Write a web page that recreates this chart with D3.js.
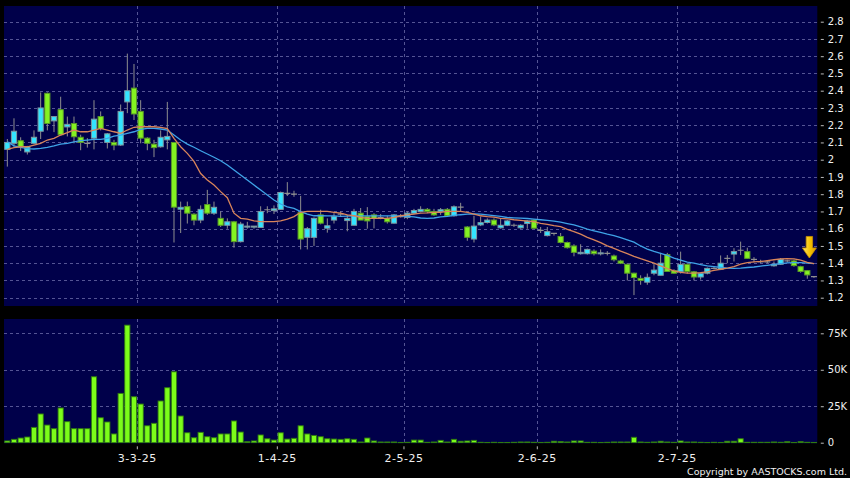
<!DOCTYPE html>
<html><head><meta charset="utf-8">
<script src="https://cdn.jsdelivr.net/npm/d3@7"></script>
<style>html,body{margin:0;padding:0;background:#000;}svg{display:block;font-family:"DejaVu Sans",sans-serif;}</style>
</head><body><svg id="c" width="850" height="478"></svg>
<script>
// ---- data ----
const tradingDays = [
  ["02", [3,4,5,6,7,10,11,12,13,14,17,18,19,20,21,24,25,26,27,28]],
  ["03", [3,4,5,6,7,10,11,12,13,14,17,18,19,20,21,24,25,26,27,28,31]],
  ["04", [1,2,3,7,8,9,10,11,14,15,16,17,22,23,24,25,28,29,30]],
  ["05", [2,6,7,8,9,12,13,14,15,16,19,20,21,22,23,26,27,28,29,30]],
  ["06", [2,3,4,5,6,9,10,11,12,13,16,17,18,19,20,23,24,25,26,27,30]],
  ["07", [2,3,4,7,8,9,10,11,14,15,16,17,18,21,22,23,24,25,28,29,30]]
];
const dates = tradingDays.flatMap(([m, ds]) => ds.map(d => "2025-" + m + "-" + String(d).padStart(2, "0")));

const open = [2.06,2.095,2.11,2.045,2.095,2.165,2.385,2.225,2.29,2.19,2.21,2.13,2.095,2.125,2.25,2.10,2.10,2.085,2.335,2.415,
 2.28,2.125,2.09,2.075,2.115,2.10,1.713,1.728,1.684,1.65,1.74,1.69,1.66,1.62,1.64,1.525,1.61,1.61,1.607,1.71,1.705,
 1.712,1.805,1.80,1.693,1.55,1.55,1.68,1.603,1.65,1.685,1.647,1.62,1.69,1.67,1.68,1.665,1.66,1.632,1.67,
 1.665,1.69,1.70,1.712,1.70,1.70,1.712,1.675,1.725,1.61,1.54,1.622,1.636,1.65,1.605,1.62,1.62,1.605,1.63,1.65,
 1.59,1.56,1.573,1.555,1.52,1.50,1.455,1.455,1.47,1.455,1.457,1.442,1.413,1.393,1.342,1.312,1.29,1.342,1.33,1.45,1.357,
 1.352,1.393,1.35,1.32,1.342,1.37,1.365,1.428,1.453,1.475,1.467,1.422,1.408,1.408,1.385,1.394,1.414,1.413,1.38,1.357,1.322];
const high = [2.12,2.24,2.13,2.08,2.17,2.39,2.39,2.25,2.365,2.25,2.25,2.145,2.125,2.345,2.28,2.155,2.115,2.32,2.615,2.555,
 2.345,2.13,2.115,2.17,2.335,2.10,1.757,1.757,1.69,1.735,1.825,1.757,1.70,1.66,1.645,1.64,1.64,1.615,1.73,1.73,1.735,
 1.815,1.87,1.82,1.79,1.61,1.665,1.71,1.66,1.69,1.70,1.68,1.715,1.72,1.725,1.69,1.685,1.675,1.685,1.685,
 1.70,1.715,1.73,1.72,1.715,1.72,1.72,1.735,1.75,1.615,1.675,1.67,1.66,1.66,1.66,1.65,1.63,1.625,1.65,1.655,
 1.61,1.61,1.575,1.575,1.525,1.51,1.51,1.485,1.48,1.48,1.47,1.45,1.42,1.40,1.345,1.33,1.34,1.395,1.46,1.46,1.365,
 1.467,1.40,1.355,1.345,1.375,1.38,1.445,1.447,1.487,1.525,1.49,1.435,1.42,1.415,1.41,1.43,1.42,1.42,1.385,1.36,1.325];
const low = [1.96,2.075,2.05,2.03,2.09,2.12,2.17,2.16,2.14,2.135,2.095,2.055,2.07,2.06,2.17,2.065,2.055,2.08,2.27,2.23,
 2.095,2.055,2.015,2.07,2.06,1.52,1.575,1.63,1.62,1.632,1.68,1.68,1.61,1.60,1.49,1.52,1.60,1.60,1.605,1.69,1.685,
 1.71,1.79,1.785,1.48,1.48,1.50,1.625,1.577,1.63,1.67,1.585,1.62,1.65,1.60,1.602,1.655,1.63,1.63,1.665,
 1.655,1.685,1.695,1.69,1.675,1.68,1.67,1.67,1.70,1.53,1.52,1.615,1.63,1.615,1.60,1.615,1.61,1.60,1.60,1.60,
 1.575,1.555,1.56,1.515,1.485,1.44,1.45,1.45,1.445,1.445,1.445,1.41,1.395,1.30,1.215,1.275,1.275,1.33,1.33,1.35,1.34,
 1.34,1.34,1.30,1.305,1.335,1.365,1.36,1.40,1.41,1.447,1.425,1.405,1.40,1.40,1.38,1.39,1.405,1.38,1.345,1.31,1.315];
const close = [2.10,2.165,2.075,2.075,2.13,2.30,2.21,2.25,2.145,2.205,2.133,2.10,2.095,2.235,2.18,2.15,2.085,2.28,2.40,2.265,
 2.125,2.095,2.07,2.13,2.135,1.725,1.724,1.69,1.65,1.712,1.69,1.724,1.62,1.64,1.525,1.627,1.615,1.615,1.70,1.71,1.715,
 1.81,1.805,1.80,1.54,1.60,1.66,1.632,1.617,1.67,1.685,1.66,1.70,1.65,1.645,1.66,1.665,1.64,1.68,1.67,
 1.69,1.705,1.712,1.70,1.68,1.71,1.675,1.727,1.725,1.55,1.615,1.635,1.65,1.622,1.62,1.645,1.62,1.62,1.645,1.603,
 1.59,1.583,1.573,1.52,1.49,1.463,1.463,1.48,1.455,1.46,1.457,1.42,1.40,1.342,1.317,1.30,1.318,1.36,1.40,1.352,1.342,
 1.393,1.352,1.32,1.341,1.37,1.37,1.40,1.428,1.467,1.475,1.428,1.422,1.408,1.408,1.394,1.422,1.414,1.386,1.352,1.332,1.322];
const volumeK = [1.2,2.3,3.2,3.9,10.5,19.7,12.1,9.6,23.8,14.4,9.6,9.6,9.6,45.2,17.1,14.2,6.0,33.8,80.6,31.5,
 26.5,11.6,13.3,28.6,37.7,48.6,18.3,6.8,3.4,7.1,4.1,3.4,6.0,6.0,14.9,7.3,0.7,1.2,5.3,2.7,1.8,
 6.8,2.5,3.0,11.6,6.0,5.0,4.1,2.7,2.5,2.3,2.7,2.3,0.5,3.2,1.2,0.5,0.5,0.5,0.2,
 0.3,1.8,1.8,0.3,0.5,1.6,0.5,2.3,1.0,1.2,1.6,0.3,0.2,0.3,0.2,0.2,0.3,0.5,0.5,0.3,
 0.2,0.3,1.0,0.8,0.5,1.2,1.2,0.3,0.3,0.2,0.3,0.5,0.5,0.5,3.7,0.5,0.3,0.5,1.0,0.5,0.3,
 1.2,0.5,0.5,0.3,0.2,0.3,0.2,1.0,1.0,2.7,0.3,0.3,0.3,0.3,0.5,0.3,0.7,0.2,0.7,0.3,0.2];
const ma10 = [2.06,2.07,2.075,2.075,2.085,2.095,2.114,2.124,2.143,2.157,2.172,2.162,2.162,2.172,2.182,2.172,2.162,2.153,2.172,2.188,
 2.191,2.191,2.191,2.188,2.18,2.124,2.075,2.037,1.99,1.92,1.882,1.853,1.815,1.78,1.69,1.66,1.655,1.645,1.641,1.641,1.641,
 1.645,1.655,1.67,1.695,1.70,1.70,1.70,1.70,1.695,1.69,1.68,1.675,1.666,1.66,1.66,1.66,1.66,1.665,1.675,
 1.68,1.685,1.69,1.692,1.695,1.695,1.70,1.70,1.70,1.695,1.685,1.675,1.67,1.667,1.66,1.657,1.652,1.648,1.644,1.641,
 1.631,1.625,1.618,1.612,1.596,1.583,1.568,1.55,1.535,1.519,1.501,1.486,1.47,1.455,1.44,1.426,1.413,1.40,1.384,1.368,1.355,
 1.347,1.343,1.343,1.345,1.35,1.358,1.365,1.372,1.38,1.395,1.403,1.408,1.41,1.415,1.42,1.425,1.427,1.425,1.418,1.405,1.398];
const ma20 = [2.104,2.08,2.072,2.064,2.062,2.066,2.072,2.08,2.09,2.095,2.103,2.11,2.114,2.118,2.118,2.124,2.137,2.143,2.153,2.162,
 2.176,2.182,2.182,2.178,2.172,2.143,2.114,2.09,2.072,2.052,2.033,2.014,1.994,1.969,1.94,1.911,1.882,1.853,1.824,1.795,1.766,
 1.743,1.727,1.718,1.699,1.684,1.675,1.675,1.674,1.674,1.672,1.673,1.674,1.674,1.674,1.674,1.674,1.674,1.674,1.674,
 1.672,1.668,1.662,1.66,1.662,1.668,1.672,1.677,1.681,1.684,1.686,1.684,1.68,1.676,1.672,1.665,1.663,1.661,1.659,1.656,
 1.652,1.648,1.644,1.638,1.63,1.622,1.61,1.598,1.588,1.578,1.568,1.56,1.548,1.535,1.522,1.50,1.482,1.468,1.457,1.445,1.43,
 1.418,1.406,1.40,1.392,1.384,1.38,1.376,1.372,1.37,1.372,1.375,1.378,1.383,1.388,1.393,1.398,1.402,1.403,1.403,1.40,1.398];

const priceTicks = [1.2,1.3,1.4,1.5,1.6,1.7,1.8,1.9,2.0,2.1,2.2,2.3,2.4,2.5,2.6,2.7,2.8];
const volTicks = [0,25,50,75];
const volTickLabels = ["0","25K","50K","75K"];
const monthTickDates = ["2025-03-03","2025-04-01","2025-05-02","2025-06-02","2025-07-02"];
const monthTickLabels = ["3-3-25","1-4-25","2-5-25","2-6-25","2-7-25"];

// ---- layout / styles ----
const svg = d3.select("#c");
const P = {l: 4, r: 817.3, top: 6, bot: 306};
const V = {top: 319, bot: 443.3};
const bg = "#00004a", gridC = "#545494";
const upC = "#33e4ff", dnC = "#84f222", wickC = "#8f8f8f";

const x = d3.scaleBand().domain(dates).range([P.l, P.r]).padding(0);
const bw = x.bandwidth();
const cx = d => x(d) + bw / 2;
const y = d3.scaleLinear().domain([1.2, 2.8]).range([297.7, 21.7]);
const yv = d3.scaleLinear().domain([0, 75]).range([442.7, 333.3]);

svg.append("rect").attr("width", 850).attr("height", 478).attr("fill", "#000");
svg.append("rect").attr("x", P.l).attr("y", P.top).attr("width", P.r - P.l).attr("height", P.bot - P.top).attr("fill", bg);
svg.append("rect").attr("x", P.l).attr("y", V.top).attr("width", P.r - P.l).attr("height", V.bot - V.top).attr("fill", bg);

const defs = svg.append("defs");
defs.append("clipPath").attr("id", "cp").append("rect").attr("x", P.l).attr("y", P.top).attr("width", P.r - P.l).attr("height", P.bot - P.top);
defs.append("clipPath").attr("id", "cv").append("rect").attr("x", P.l).attr("y", V.top).attr("width", P.r - P.l).attr("height", V.bot - V.top);

// grids
const grid = svg.append("g").attr("stroke", gridC).attr("stroke-width", 1).attr("stroke-dasharray", "3,3").attr("fill", "none");
grid.selectAll(".hp").data(priceTicks).join("line")
  .attr("x1", P.l).attr("x2", P.r).attr("y1", d => Math.round(y(d)) + 0.5).attr("y2", d => Math.round(y(d)) + 0.5);
grid.selectAll(".hv").data(volTicks.slice(1)).join("line")
  .attr("x1", P.l).attr("x2", P.r).attr("y1", d => Math.round(yv(d)) + 0.5).attr("y2", d => Math.round(yv(d)) + 0.5);
monthTickDates.forEach(d => {
  const xx = Math.round(x(d)) + 0.5;
  grid.append("line").attr("x1", xx).attr("x2", xx).attr("y1", P.top).attr("y2", P.bot);
  grid.append("line").attr("x1", xx).attr("x2", xx).attr("y1", V.top).attr("y2", V.bot);
});

// volume bars
const vol = dates.map((d, i) => ({d, v: volumeK[i]}));
svg.append("g").attr("clip-path", "url(#cv)").selectAll("rect").data(vol).join("rect")
  .attr("x", d => cx(d.d) - 2.6).attr("width", 5.2)
  .attr("y", d => yv(d.v)).attr("height", d => Math.max(0.5, yv(0) - yv(d.v)))
  .attr("fill", "#7cfc1a").attr("stroke", "#2f7a10").attr("stroke-width", 0.9);

// candles
const candles = dates.map((d, i) => ({d, o: open[i], h: high[i], l: low[i], c: close[i]}));
const cg = svg.append("g").attr("clip-path", "url(#cp)");
cg.selectAll(".wick").data(candles).join("line")
  .attr("x1", d => cx(d.d)).attr("x2", d => cx(d.d))
  .attr("y1", d => y(d.h)).attr("y2", d => y(d.l))
  .attr("stroke", wickC).attr("stroke-width", 1);
cg.selectAll(".body").data(candles.filter(d => d.o !== d.c)).join("rect")
  .attr("x", d => cx(d.d) - 2.6).attr("width", 5.2)
  .attr("y", d => y(Math.max(d.o, d.c)))
  .attr("height", d => Math.max(1, Math.abs(y(d.o) - y(d.c))))
  .attr("fill", d => d.c > d.o ? upC : dnC)
  .attr("stroke", d => d.c > d.o ? "#7d98a0" : "#5a9a28").attr("stroke-width", 1);
cg.selectAll(".doji").data(candles.filter(d => d.o === d.c)).join("line")
  .attr("x1", d => cx(d.d) - 3).attr("x2", d => cx(d.d) + 3)
  .attr("y1", d => y(d.c)).attr("y2", d => y(d.c))
  .attr("stroke", wickC).attr("stroke-width", 1.2);

// moving averages
const line = arr => d3.line().x((d, i) => cx(dates[i])).y(d => y(d))(arr);
cg.append("path").attr("d", line(ma20)).attr("fill", "none").attr("stroke", "#3ea2e6").attr("stroke-width", 1.3);
cg.append("path").attr("d", line(ma10)).attr("fill", "none").attr("stroke", "#d8845a").attr("stroke-width", 1.3);

// arrow marker at last bar
const grad = defs.append("linearGradient").attr("id", "ag").attr("x1", 0).attr("x2", 1).attr("y1", 0).attr("y2", 0);
grad.append("stop").attr("offset", "0%").attr("stop-color", "#ffe46a");
grad.append("stop").attr("offset", "55%").attr("stop-color", "#f5c200");
grad.append("stop").attr("offset", "100%").attr("stop-color", "#d99a00");
const ax = cx(dates[dates.length - 1]) - 4.6, aTop = y(1.555), aTip = y(1.43), aNeck = aTop + 11.5;
svg.append("path")
  .attr("d", `M${ax-3.2},${aTop} L${ax+3.2},${aTop} L${ax+3.2},${aNeck} L${ax+7},${aNeck} L${ax},${aTip} L${ax-7},${aNeck} L${ax-3.2},${aNeck} Z`)
  .attr("fill", "url(#ag)").attr("stroke", "#c89000").attr("stroke-width", 0.8);

// axes
const txtC = "#f0f0f0";
const ya = svg.append("g").attr("transform", `translate(${P.r + 3.5},0)`)
  .call(d3.axisRight(y).tickValues(priceTicks).tickSize(3).tickPadding(4).tickFormat(d => String(+d.toFixed(1))));
const va = svg.append("g").attr("transform", `translate(${P.r + 3.5},0)`)
  .call(d3.axisRight(yv).tickValues(volTicks).tickSize(3).tickPadding(4).tickFormat((d, i) => volTickLabels[i]));
const xa = svg.append("g").attr("transform", `translate(${-bw / 2},${V.bot + 3})`)
  .call(d3.axisBottom(x).tickValues(monthTickDates).tickSize(3).tickPadding(5).tickFormat((d, i) => monthTickLabels[i]));
[ya, va, xa].forEach(g => {
  g.select(".domain").remove();
  g.attr("color", txtC).attr("font-family", "DejaVu Sans, sans-serif");
  g.selectAll(".tick line").attr("stroke", "#bbbbbb");
});
ya.attr("font-size", 10); va.attr("font-size", 10);
xa.attr("font-size", 11).selectAll("text").attr("letter-spacing", "0.5px");

svg.append("text").attr("x", 847).attr("y", 474.5).attr("text-anchor", "end")
  .attr("fill", txtC).attr("font-size", 9.5).text("Copyright by AASTOCKS.com Ltd.");
</script></body></html>
